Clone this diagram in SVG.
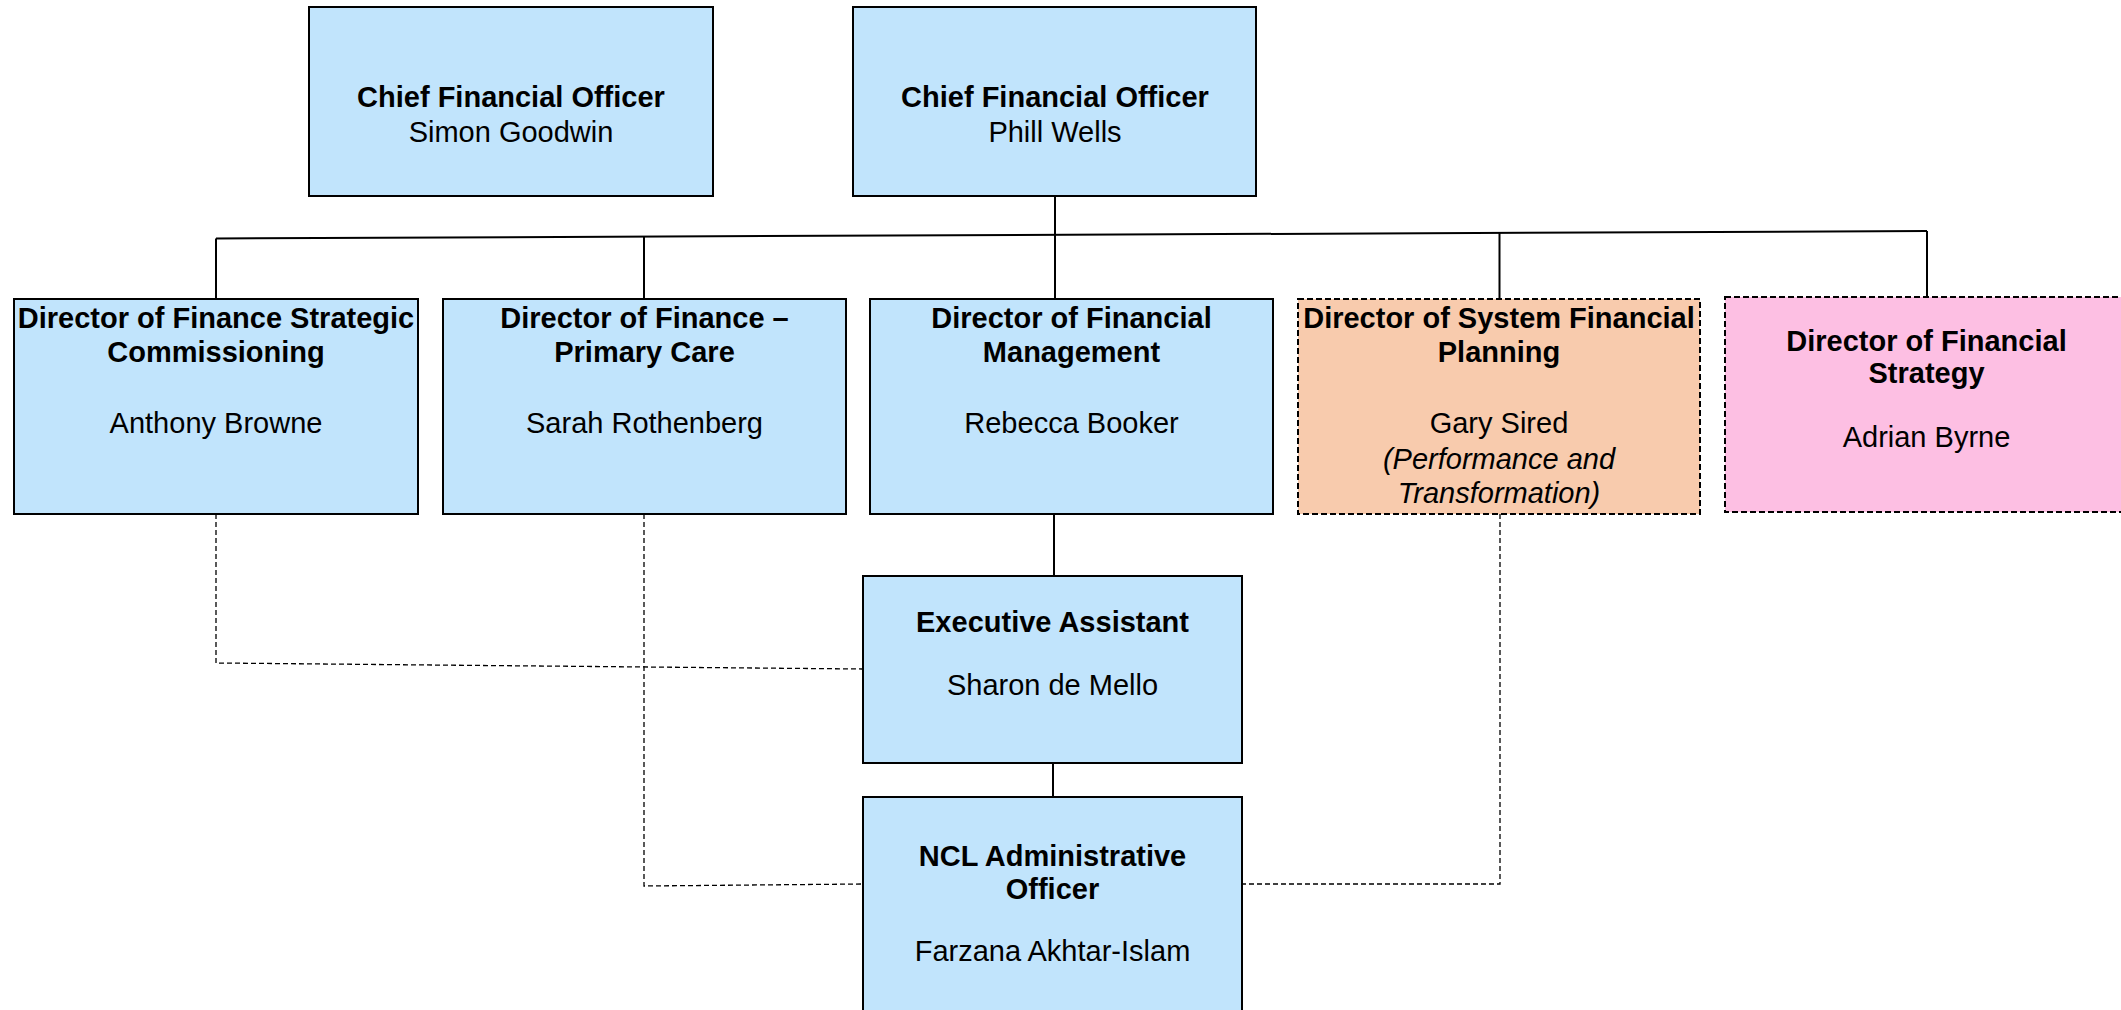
<svg xmlns="http://www.w3.org/2000/svg" width="2121" height="1010" viewBox="0 0 2121 1010">
<style>
.box{stroke:#000;stroke-width:2}
.blue{fill:#C1E4FC}
.orange{fill:#F8CBAD;stroke-dasharray:6 3}
.pink{fill:#FDBFE3;stroke-dasharray:6 3}
text{font-family:"Liberation Sans",Arial,sans-serif;font-size:29px;fill:#000;text-anchor:middle}
.b{font-weight:bold}
.i{font-style:italic}
.solid{fill:none;stroke:#000;stroke-width:2}
.dash{fill:none;stroke:#000;stroke-width:1.3;stroke-dasharray:5 3}
</style>
<rect width="2121" height="1010" fill="#fff"/>
<g id="connectors">
<line class="solid" x1="216" y1="238.5" x2="1927" y2="231"/>
<line class="solid" x1="1055" y1="196" x2="1055" y2="299"/>
<line class="solid" x1="216" y1="238.5" x2="216" y2="299"/>
<line class="solid" x1="644" y1="236.6" x2="644" y2="299"/>
<line class="solid" x1="1499.5" y1="232.9" x2="1499.5" y2="299"/>
<line class="solid" x1="1927" y1="231" x2="1927" y2="297"/>
<line class="solid" x1="1054" y1="514" x2="1054" y2="576"/>
<line class="solid" x1="1053" y1="763" x2="1053" y2="797"/>
<path class="dash" d="M216,514 V663 L862,669"/>
<path class="dash" d="M644,514 V886 L863,884"/>
<path class="dash" d="M1500,514 V884 H1242"/>
</g>
<g id="cfo-simon">
<rect class="box blue" x="309" y="7" width="404" height="189"/>
<text class="b" x="511" y="106.7">Chief Financial Officer</text>
<text x="511" y="141.7">Simon Goodwin</text>
</g>
<g id="cfo-phill">
<rect class="box blue" x="853" y="7" width="403" height="189"/>
<text class="b" x="1055" y="106.7">Chief Financial Officer</text>
<text x="1055" y="141.7">Phill Wells</text>
</g>
<g id="dir-strategic-commissioning">
<rect class="box blue" x="14" y="299" width="404" height="215"/>
<text class="b" x="216" y="327.5">Director of Finance Strategic</text>
<text class="b" x="216" y="362">Commissioning</text>
<text x="216" y="433">Anthony Browne</text>
</g>
<g id="dir-primary-care">
<rect class="box blue" x="443" y="299" width="403" height="215"/>
<text class="b" x="644.5" y="327.5">Director of Finance –</text>
<text class="b" x="644.5" y="362">Primary Care</text>
<text x="644.5" y="433">Sarah Rothenberg</text>
</g>
<g id="dir-financial-management">
<rect class="box blue" x="870" y="299" width="403" height="215"/>
<text class="b" x="1071.5" y="327.5">Director of Financial</text>
<text class="b" x="1071.5" y="362">Management</text>
<text x="1071.5" y="433">Rebecca Booker</text>
</g>
<g id="dir-system-financial-planning">
<rect class="box orange" x="1298" y="299" width="402" height="215"/>
<text class="b" x="1499" y="327.5">Director of System Financial</text>
<text class="b" x="1499" y="362">Planning</text>
<text x="1499" y="433">Gary Sired</text>
<text class="i" x="1499" y="469">(Performance and</text>
<text class="i" x="1499" y="503">Transformation)</text>
</g>
<g id="dir-financial-strategy">
<rect class="box pink" x="1725" y="297" width="403" height="215"/>
<text class="b" x="1926.5" y="350.5">Director of Financial</text>
<text class="b" x="1926.5" y="383">Strategy</text>
<text x="1926.5" y="447">Adrian Byrne</text>
</g>
<g id="executive-assistant">
<rect class="box blue" x="863" y="576" width="379" height="187"/>
<text class="b" x="1052.5" y="631.7">Executive Assistant</text>
<text x="1052.5" y="695">Sharon de Mello</text>
</g>
<g id="ncl-admin-officer">
<rect class="box blue" x="863" y="797" width="379" height="230"/>
<text class="b" x="1052.5" y="866">NCL Administrative</text>
<text class="b" x="1052.5" y="899">Officer</text>
<text x="1052.5" y="961">Farzana Akhtar-Islam</text>
</g>
</svg>
